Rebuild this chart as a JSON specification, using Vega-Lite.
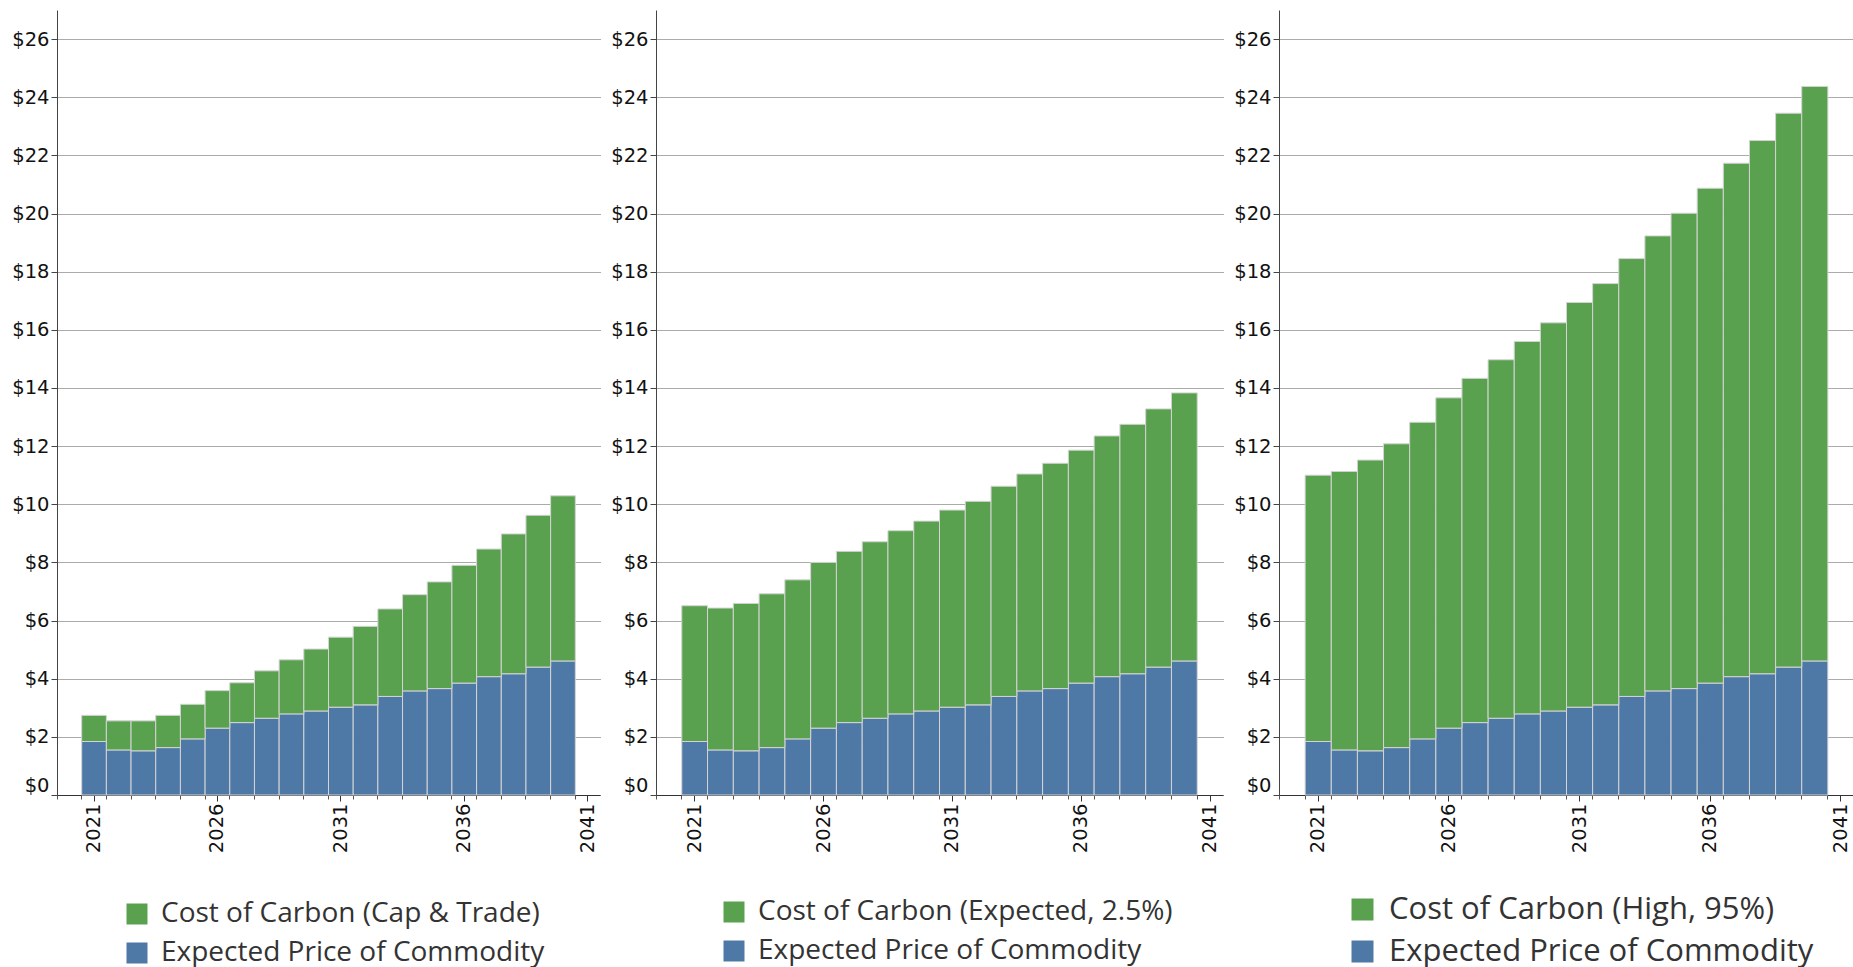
{
  "$schema": "https://vega.github.io/schema/vega-lite/v6.json",
  "background": "white",
  "padding": {"left": 11, "top": 10, "right": 0, "bottom": 0},
  "config": {
    "view": {"stroke": null},
    "axis": {"labelFont": "DejaVu Sans", "labelFontSize": 19.5, "labelColor": "#111", "titleFontSize": 0},
    "legend": {"labelFont": "Open Sans", "labelColor": "#333", "padding": 0, "labelLimit": 800, "title": null}
  },
  "datasets": {
    "p1": [
      {"year": 2021, "series": "Expected Price of Commodity", "value": 1.84},
      {"year": 2022, "series": "Expected Price of Commodity", "value": 1.55},
      {"year": 2023, "series": "Expected Price of Commodity", "value": 1.52},
      {"year": 2024, "series": "Expected Price of Commodity", "value": 1.63},
      {"year": 2025, "series": "Expected Price of Commodity", "value": 1.93},
      {"year": 2026, "series": "Expected Price of Commodity", "value": 2.30},
      {"year": 2027, "series": "Expected Price of Commodity", "value": 2.49},
      {"year": 2028, "series": "Expected Price of Commodity", "value": 2.64},
      {"year": 2029, "series": "Expected Price of Commodity", "value": 2.79},
      {"year": 2030, "series": "Expected Price of Commodity", "value": 2.89},
      {"year": 2031, "series": "Expected Price of Commodity", "value": 3.02},
      {"year": 2032, "series": "Expected Price of Commodity", "value": 3.10},
      {"year": 2033, "series": "Expected Price of Commodity", "value": 3.39},
      {"year": 2034, "series": "Expected Price of Commodity", "value": 3.58},
      {"year": 2035, "series": "Expected Price of Commodity", "value": 3.66},
      {"year": 2036, "series": "Expected Price of Commodity", "value": 3.85},
      {"year": 2037, "series": "Expected Price of Commodity", "value": 4.07},
      {"year": 2038, "series": "Expected Price of Commodity", "value": 4.17},
      {"year": 2039, "series": "Expected Price of Commodity", "value": 4.40},
      {"year": 2040, "series": "Expected Price of Commodity", "value": 4.61},
      {"year": 2021, "series": "Cost of Carbon (Cap & Trade)", "value": 0.90},
      {"year": 2022, "series": "Cost of Carbon (Cap & Trade)", "value": 1.00},
      {"year": 2023, "series": "Cost of Carbon (Cap & Trade)", "value": 1.03},
      {"year": 2024, "series": "Cost of Carbon (Cap & Trade)", "value": 1.11},
      {"year": 2025, "series": "Cost of Carbon (Cap & Trade)", "value": 1.19},
      {"year": 2026, "series": "Cost of Carbon (Cap & Trade)", "value": 1.29},
      {"year": 2027, "series": "Cost of Carbon (Cap & Trade)", "value": 1.37},
      {"year": 2028, "series": "Cost of Carbon (Cap & Trade)", "value": 1.63},
      {"year": 2029, "series": "Cost of Carbon (Cap & Trade)", "value": 1.86},
      {"year": 2030, "series": "Cost of Carbon (Cap & Trade)", "value": 2.13},
      {"year": 2031, "series": "Cost of Carbon (Cap & Trade)", "value": 2.41},
      {"year": 2032, "series": "Cost of Carbon (Cap & Trade)", "value": 2.70},
      {"year": 2033, "series": "Cost of Carbon (Cap & Trade)", "value": 3.01},
      {"year": 2034, "series": "Cost of Carbon (Cap & Trade)", "value": 3.31},
      {"year": 2035, "series": "Cost of Carbon (Cap & Trade)", "value": 3.67},
      {"year": 2036, "series": "Cost of Carbon (Cap & Trade)", "value": 4.05},
      {"year": 2037, "series": "Cost of Carbon (Cap & Trade)", "value": 4.39},
      {"year": 2038, "series": "Cost of Carbon (Cap & Trade)", "value": 4.81},
      {"year": 2039, "series": "Cost of Carbon (Cap & Trade)", "value": 5.22},
      {"year": 2040, "series": "Cost of Carbon (Cap & Trade)", "value": 5.68}
    ],
    "p2": [
      {"year": 2021, "series": "Expected Price of Commodity", "value": 1.84},
      {"year": 2022, "series": "Expected Price of Commodity", "value": 1.55},
      {"year": 2023, "series": "Expected Price of Commodity", "value": 1.52},
      {"year": 2024, "series": "Expected Price of Commodity", "value": 1.63},
      {"year": 2025, "series": "Expected Price of Commodity", "value": 1.93},
      {"year": 2026, "series": "Expected Price of Commodity", "value": 2.30},
      {"year": 2027, "series": "Expected Price of Commodity", "value": 2.49},
      {"year": 2028, "series": "Expected Price of Commodity", "value": 2.64},
      {"year": 2029, "series": "Expected Price of Commodity", "value": 2.79},
      {"year": 2030, "series": "Expected Price of Commodity", "value": 2.89},
      {"year": 2031, "series": "Expected Price of Commodity", "value": 3.02},
      {"year": 2032, "series": "Expected Price of Commodity", "value": 3.10},
      {"year": 2033, "series": "Expected Price of Commodity", "value": 3.39},
      {"year": 2034, "series": "Expected Price of Commodity", "value": 3.58},
      {"year": 2035, "series": "Expected Price of Commodity", "value": 3.66},
      {"year": 2036, "series": "Expected Price of Commodity", "value": 3.85},
      {"year": 2037, "series": "Expected Price of Commodity", "value": 4.07},
      {"year": 2038, "series": "Expected Price of Commodity", "value": 4.17},
      {"year": 2039, "series": "Expected Price of Commodity", "value": 4.40},
      {"year": 2040, "series": "Expected Price of Commodity", "value": 4.61},
      {"year": 2021, "series": "Cost of Carbon (Expected, 2.5%)", "value": 4.67},
      {"year": 2022, "series": "Cost of Carbon (Expected, 2.5%)", "value": 4.88},
      {"year": 2023, "series": "Cost of Carbon (Expected, 2.5%)", "value": 5.07},
      {"year": 2024, "series": "Cost of Carbon (Expected, 2.5%)", "value": 5.29},
      {"year": 2025, "series": "Cost of Carbon (Expected, 2.5%)", "value": 5.47},
      {"year": 2026, "series": "Cost of Carbon (Expected, 2.5%)", "value": 5.70},
      {"year": 2027, "series": "Cost of Carbon (Expected, 2.5%)", "value": 5.89},
      {"year": 2028, "series": "Cost of Carbon (Expected, 2.5%)", "value": 6.07},
      {"year": 2029, "series": "Cost of Carbon (Expected, 2.5%)", "value": 6.30},
      {"year": 2030, "series": "Cost of Carbon (Expected, 2.5%)", "value": 6.53},
      {"year": 2031, "series": "Cost of Carbon (Expected, 2.5%)", "value": 6.78},
      {"year": 2032, "series": "Cost of Carbon (Expected, 2.5%)", "value": 7.00},
      {"year": 2033, "series": "Cost of Carbon (Expected, 2.5%)", "value": 7.23},
      {"year": 2034, "series": "Cost of Carbon (Expected, 2.5%)", "value": 7.46},
      {"year": 2035, "series": "Cost of Carbon (Expected, 2.5%)", "value": 7.75},
      {"year": 2036, "series": "Cost of Carbon (Expected, 2.5%)", "value": 8.01},
      {"year": 2037, "series": "Cost of Carbon (Expected, 2.5%)", "value": 8.28},
      {"year": 2038, "series": "Cost of Carbon (Expected, 2.5%)", "value": 8.58},
      {"year": 2039, "series": "Cost of Carbon (Expected, 2.5%)", "value": 8.88},
      {"year": 2040, "series": "Cost of Carbon (Expected, 2.5%)", "value": 9.22}
    ],
    "p3": [
      {"year": 2021, "series": "Expected Price of Commodity", "value": 1.84},
      {"year": 2022, "series": "Expected Price of Commodity", "value": 1.55},
      {"year": 2023, "series": "Expected Price of Commodity", "value": 1.52},
      {"year": 2024, "series": "Expected Price of Commodity", "value": 1.63},
      {"year": 2025, "series": "Expected Price of Commodity", "value": 1.93},
      {"year": 2026, "series": "Expected Price of Commodity", "value": 2.30},
      {"year": 2027, "series": "Expected Price of Commodity", "value": 2.49},
      {"year": 2028, "series": "Expected Price of Commodity", "value": 2.64},
      {"year": 2029, "series": "Expected Price of Commodity", "value": 2.79},
      {"year": 2030, "series": "Expected Price of Commodity", "value": 2.89},
      {"year": 2031, "series": "Expected Price of Commodity", "value": 3.02},
      {"year": 2032, "series": "Expected Price of Commodity", "value": 3.10},
      {"year": 2033, "series": "Expected Price of Commodity", "value": 3.39},
      {"year": 2034, "series": "Expected Price of Commodity", "value": 3.58},
      {"year": 2035, "series": "Expected Price of Commodity", "value": 3.66},
      {"year": 2036, "series": "Expected Price of Commodity", "value": 3.85},
      {"year": 2037, "series": "Expected Price of Commodity", "value": 4.07},
      {"year": 2038, "series": "Expected Price of Commodity", "value": 4.17},
      {"year": 2039, "series": "Expected Price of Commodity", "value": 4.40},
      {"year": 2040, "series": "Expected Price of Commodity", "value": 4.61},
      {"year": 2021, "series": "Cost of Carbon (High, 95%)", "value": 9.16},
      {"year": 2022, "series": "Cost of Carbon (High, 95%)", "value": 9.58},
      {"year": 2023, "series": "Cost of Carbon (High, 95%)", "value": 10.00},
      {"year": 2024, "series": "Cost of Carbon (High, 95%)", "value": 10.45},
      {"year": 2025, "series": "Cost of Carbon (High, 95%)", "value": 10.89},
      {"year": 2026, "series": "Cost of Carbon (High, 95%)", "value": 11.36},
      {"year": 2027, "series": "Cost of Carbon (High, 95%)", "value": 11.84},
      {"year": 2028, "series": "Cost of Carbon (High, 95%)", "value": 12.33},
      {"year": 2029, "series": "Cost of Carbon (High, 95%)", "value": 12.81},
      {"year": 2030, "series": "Cost of Carbon (High, 95%)", "value": 13.35},
      {"year": 2031, "series": "Cost of Carbon (High, 95%)", "value": 13.92},
      {"year": 2032, "series": "Cost of Carbon (High, 95%)", "value": 14.49},
      {"year": 2033, "series": "Cost of Carbon (High, 95%)", "value": 15.06},
      {"year": 2034, "series": "Cost of Carbon (High, 95%)", "value": 15.65},
      {"year": 2035, "series": "Cost of Carbon (High, 95%)", "value": 16.35},
      {"year": 2036, "series": "Cost of Carbon (High, 95%)", "value": 17.02},
      {"year": 2037, "series": "Cost of Carbon (High, 95%)", "value": 17.66},
      {"year": 2038, "series": "Cost of Carbon (High, 95%)", "value": 18.34},
      {"year": 2039, "series": "Cost of Carbon (High, 95%)", "value": 19.05},
      {"year": 2040, "series": "Cost of Carbon (High, 95%)", "value": 19.76}
    ]
  },
  "spacing": 56,
  "bounds": "flush",
  "resolve": {"scale": {"color": "independent", "x": "independent", "y": "independent"}, "legend": {"color": "independent"}},
  "hconcat": [
    {
      "width": 543, "height": 785,
      "data": {"name": "p1"},
      "resolve": {"axis": {"x": "independent"}},
      "layer": [
        {
          "mark": {"type": "bar", "stroke": "#d4d4d4", "strokeWidth": 1},
          "encoding": {
            "x": {"field": "year", "type": "ordinal",
              "scale": {"domain": [2020,2021,2022,2023,2024,2025,2026,2027,2028,2029,2030,2031,2032,2033,2034,2035,2036,2037,2038,2039,2040,2041], "paddingInner": 0, "paddingOuter": 0},
              "axis": {"title": null, "orient": "bottom", "values": [2021,2026,2031,2036,2041], "labelAngle": -90, "tickSize": 6, "tickColor": "#333", "labelPadding": 2, "domainColor": "#333", "grid": false}},
            "y": {"field": "value", "type": "quantitative", "stack": "zero",
              "scale": {"domain": [0, 27], "nice": false},
              "axis": {"title": null, "values": [0,2,4,6,8,10,12,14,16,18,20,22,24,26], "format": "$.0f", "tickSize": 6, "tickColor": "#444", "labelPadding": 2, "domainColor": "#444", "grid": true, "gridColor": "#555", "gridDash": [1,1], "labelFlush": true}},
            "color": {"field": "series", "type": "nominal",
              "scale": {"domain": ["Cost of Carbon (Cap & Trade)", "Expected Price of Commodity"], "range": ["#59A14F", "#4E79A7"]},
              "legend": {"orient": "none", "legendX": 66, "legendY": 890, "labelFontSize": 28, "symbolType": "square", "symbolSize": 441, "symbolStrokeWidth": 0, "labelOffset": 10, "rowPadding": 11}},
            "order": {"field": "series", "sort": "descending"}
          }
        },
        {
          "mark": {"type": "point", "opacity": 0},
          "encoding": {
            "x": {"field": "year", "type": "ordinal",
              "axis": {"title": null, "orient": "bottom", "values": [2020,2021,2022,2023,2024,2025,2026,2027,2028,2029,2030,2031,2032,2033,2034,2035,2036,2037,2038,2039,2040,2041], "bandPosition": 0, "labels": false, "domain": false, "tickSize": 4, "tickColor": "#555", "grid": false}}
          }
        }
      ]
    },
    {
      "width": 567, "height": 785,
      "data": {"name": "p2"},
      "resolve": {"axis": {"x": "independent"}},
      "layer": [
        {
          "mark": {"type": "bar", "stroke": "#d4d4d4", "strokeWidth": 1},
          "encoding": {
            "x": {"field": "year", "type": "ordinal",
              "scale": {"domain": [2020,2021,2022,2023,2024,2025,2026,2027,2028,2029,2030,2031,2032,2033,2034,2035,2036,2037,2038,2039,2040,2041], "paddingInner": 0, "paddingOuter": 0},
              "axis": {"title": null, "orient": "bottom", "values": [2021,2026,2031,2036,2041], "labelAngle": -90, "tickSize": 6, "tickColor": "#333", "labelPadding": 2, "domainColor": "#333", "grid": false}},
            "y": {"field": "value", "type": "quantitative", "stack": "zero",
              "scale": {"domain": [0, 27], "nice": false},
              "axis": {"title": null, "values": [0,2,4,6,8,10,12,14,16,18,20,22,24,26], "format": "$.0f", "tickSize": 6, "tickColor": "#444", "labelPadding": 2, "domainColor": "#444", "grid": true, "gridColor": "#555", "gridDash": [1,1], "labelFlush": true}},
            "color": {"field": "series", "type": "nominal",
              "scale": {"domain": ["Cost of Carbon (Expected, 2.5%)", "Expected Price of Commodity"], "range": ["#59A14F", "#4E79A7"]},
              "legend": {"orient": "none", "legendX": 64, "legendY": 888, "labelFontSize": 28, "symbolType": "square", "symbolSize": 441, "symbolStrokeWidth": 0, "labelOffset": 10, "rowPadding": 11}},
            "order": {"field": "series", "sort": "descending"}
          }
        },
        {
          "mark": {"type": "point", "opacity": 0},
          "encoding": {
            "x": {"field": "year", "type": "ordinal",
              "axis": {"title": null, "orient": "bottom", "values": [2020,2021,2022,2023,2024,2025,2026,2027,2028,2029,2030,2031,2032,2033,2034,2035,2036,2037,2038,2039,2040,2041], "bandPosition": 0, "labels": false, "domain": false, "tickSize": 4, "tickColor": "#555", "grid": false}}
          }
        }
      ]
    },
    {
      "width": 575, "height": 785,
      "data": {"name": "p3"},
      "resolve": {"axis": {"x": "independent"}},
      "layer": [
        {
          "mark": {"type": "bar", "stroke": "#d4d4d4", "strokeWidth": 1},
          "encoding": {
            "x": {"field": "year", "type": "ordinal",
              "scale": {"domain": [2020,2021,2022,2023,2024,2025,2026,2027,2028,2029,2030,2031,2032,2033,2034,2035,2036,2037,2038,2039,2040,2041], "paddingInner": 0, "paddingOuter": 0},
              "axis": {"title": null, "orient": "bottom", "values": [2021,2026,2031,2036,2041], "labelAngle": -90, "tickSize": 6, "tickColor": "#333", "labelPadding": 2, "domainColor": "#333", "grid": false}},
            "y": {"field": "value", "type": "quantitative", "stack": "zero",
              "scale": {"domain": [0, 27], "nice": false},
              "axis": {"title": null, "values": [0,2,4,6,8,10,12,14,16,18,20,22,24,26], "format": "$.0f", "tickSize": 6, "tickColor": "#444", "labelPadding": 2, "domainColor": "#444", "grid": true, "gridColor": "#555", "gridDash": [1,1], "labelFlush": true}},
            "color": {"field": "series", "type": "nominal",
              "scale": {"domain": ["Cost of Carbon (High, 95%)", "Expected Price of Commodity"], "range": ["#59A14F", "#4E79A7"]},
              "legend": {"orient": "none", "legendX": 68, "legendY": 884, "labelFontSize": 31, "symbolType": "square", "symbolSize": 484, "symbolStrokeWidth": 0, "labelOffset": 11, "rowPadding": 10}},
            "order": {"field": "series", "sort": "descending"}
          }
        },
        {
          "mark": {"type": "point", "opacity": 0},
          "encoding": {
            "x": {"field": "year", "type": "ordinal",
              "axis": {"title": null, "orient": "bottom", "values": [2020,2021,2022,2023,2024,2025,2026,2027,2028,2029,2030,2031,2032,2033,2034,2035,2036,2037,2038,2039,2040,2041], "bandPosition": 0, "labels": false, "domain": false, "tickSize": 4, "tickColor": "#555", "grid": false}}
          }
        }
      ]
    }
  ]
}
